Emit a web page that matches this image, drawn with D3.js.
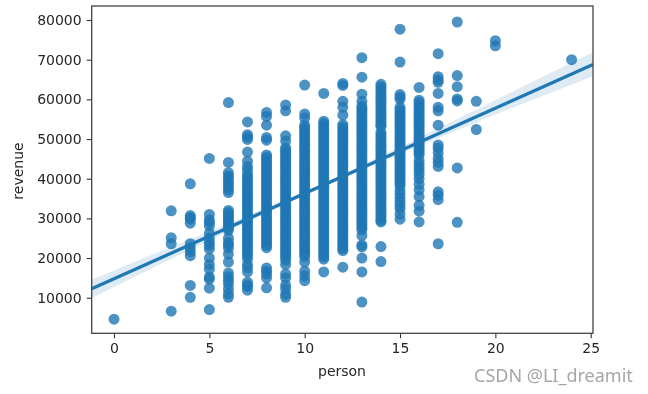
<!DOCTYPE html>
<html><head><meta charset="utf-8">
<script src="https://cdn.jsdelivr.net/npm/d3@7/dist/d3.min.js"></script>
<style>html,body{margin:0;padding:0;background:#fff}svg{display:block}</style>
</head><body><svg id="c" width="648" height="394"></svg>
<script>
const xTicks=[0,5,10,15,20,25];
const yTicks=[10000,20000,30000,40000,50000,60000,70000,80000];
const persons=[0,3,4,5,6,7,8,9,10,11,12,13,14,15,16,17,18,19,20,24];
const rev0=[4600];
const rev3=[31900,25100,23600,6600];
const rev4=[38700,30700,30200,29800,28800,23600,22500,21600,20600,13100,10100];
const rev5=[45100,31000,29600,29000,28200,26300,25000,24000,23200,22300,20000,18400,17200,15200,14700,12400,7000];
const rev6=[59200,44100,41500,40700,40100,39300,38600,37900,37200,36500,32000,31500,30900,30300,29800,29200,28600,28000,27500,27000,25000,23900,23300,22500,21000,19000,16200,15300,14400,13500,12200,11000,10100];
const rev7=[54300,51100,50500,49900,46700,44400,43100,42200,41100,40500,39900,39200,38700,38000,37400,36800,36200,35600,35000,34400,33800,33200,32600,32000,31400,30800,30200,29600,29000,28400,27800,27200,26600,26000,25400,24800,24200,23600,23000,22400,21800,21200,20600,19800,18400,17600,16500,13900,13200,12800,11900];
const rev8=[56700,55700,53500,50400,49700,46000,45400,44800,44200,43600,43000,42400,41800,41200,40600,40000,39400,38800,38200,37600,37000,36400,35800,35200,34600,34000,33400,32800,32200,31600,31000,30400,29800,29200,28600,28000,27400,26800,26200,25600,25000,24400,23800,23200,22600,17500,16700,16000,15000,12500];
const rev9=[58600,57100,50800,49500,47800,47200,46600,46000,45400,44800,44200,43600,43000,42400,41800,41200,40600,40000,39400,38800,38200,37600,37000,36400,35800,35200,34600,34000,33400,32800,32200,31600,31000,30400,29800,29200,28600,28000,27400,26800,26200,25600,25000,24400,23800,23200,22600,22000,21400,20800,20200,19500,18400,16000,15000,13200,12200,10900,10100];
const rev10=[63600,56300,55300,53500,52900,52300,51700,51100,50500,49900,49300,48700,48100,47500,46900,46300,45700,45100,44500,43900,43300,42700,42100,41500,40900,40300,39700,39100,38500,37900,37300,36700,36100,35500,34900,34300,33700,33100,32500,31900,31300,30700,30100,29500,28900,28300,27700,27100,26500,25900,25300,24700,24100,23500,22900,22300,21700,21100,20400,19000,16700,15500,14300];
const rev11=[61500,54500,53900,53300,52700,52100,51500,50900,50300,49700,49100,48500,47900,47300,46700,46100,45500,44900,44300,43700,43100,42500,41900,41300,40700,40100,39500,38900,38300,37700,37100,36500,35900,35300,34700,34100,33500,32900,32300,31700,31100,30500,29900,29300,28700,28100,27500,26900,26300,25700,25100,24500,23900,23300,22700,22100,21500,20900,20300,19700,16500];
const rev12=[64000,63500,59500,58000,56000,53600,53000,52400,51800,51200,50600,50000,49400,48800,48200,47600,47000,46400,45800,45200,44600,44000,43400,42800,42200,41600,41000,40400,39800,39200,38600,38000,37400,36800,36200,35600,35000,34400,33800,33200,32600,32000,31400,30800,30200,29600,29000,28400,27800,27200,26600,26000,25400,24800,24200,23600,23000,22400,21900,17700];
const rev13=[70500,65600,61300,59500,58300,57700,57100,56500,55900,55300,54700,54100,53500,52900,52300,51700,51100,50500,49900,49300,48700,48100,47500,46900,46300,45700,45100,44500,43900,43300,42700,42100,41500,40900,40300,39700,39100,38500,37900,37300,36700,36100,35500,34900,34300,33700,33100,32500,31900,31300,30700,30100,29500,28900,28300,27700,27100,25700,23300,22800,20000,16500,8900];
const rev14=[63800,63200,62600,62000,61400,60800,60200,59600,59000,58400,57800,57200,56600,56000,55400,54800,54200,53600,53200,51700,51100,50500,49900,49300,48700,48100,47500,46900,46300,45700,45100,44500,43900,43300,42700,42100,41500,40900,40300,39700,39100,38500,37900,37300,36700,36100,35500,34900,34300,33700,33100,32500,31900,31300,30700,30100,29500,29100,22900,19100];
const rev15=[77700,69400,61200,60600,60000,58000,57400,56800,56200,55600,55000,54400,53800,53200,52600,52000,51400,50800,50200,49600,49000,48400,47800,47200,46600,46000,45400,44800,44200,43600,43000,42400,41800,41200,40600,40000,39400,38800,38200,37000,36100,35100,34200,33300,32500,31100,29800];
const rev16=[63000,59800,59200,58600,58000,57400,56800,56200,55600,55000,54400,53800,53200,52600,52000,51400,50800,50200,49600,49000,48400,47800,47200,46600,46000,44600,43700,42800,42000,41100,40000,38600,37200,35500,33300,31800,29100];
const rev17=[71500,65700,64900,64300,61500,58000,57100,53500,48500,47700,46500,45100,44100,43100,36700,35800,34700,23600];
const rev18=[79500,66000,63200,60100,59600,42700,29000];
const rev19=[59500,52400];
const rev20=[74800,73500];
const rev24=[70000];
const revenueByPerson=[rev0,rev3,rev4,rev5,rev6,rev7,rev8,rev9,rev10,rev11,rev12,rev13,rev14,rev15,rev16,rev17,rev18,rev19,rev20,rev24];
const fitX=[-1.17,25.12];
const fitY=[12250,68800];
const bandX=[-1.17,2,4,6,8,10,12,14,16,18,20,22,25.12];
const bandHi=[14550,20800,24700,28700,32750,36850,41130,45700,50300,55030,59750,64560,71900];
const bandLo=[9950,17400,22100,26700,31340,35860,40230,44300,48300,52230,56150,59960,65800];

const svg=d3.select('#c');
const m={l:91.7,r:593,t:6,b:333.3};
const x=d3.scaleLinear().domain([-1.17,25.12]).range([m.l,m.r]);
const y=d3.scaleLinear().domain([1030,83530]).range([m.b,m.t]);
const blue='#1f77b4',ink='#262626';
const root=svg.append('g').style('filter','blur(0.45px)');
root.append('defs').append('clipPath').attr('id','plot').append('rect')
  .attr('x',m.l).attr('y',m.t).attr('width',m.r-m.l).attr('height',m.b-m.t);
const pts=persons.flatMap((p,i)=>revenueByPerson[i].map(v=>({p,v})));
const g=root.append('g').attr('clip-path','url(#plot)');
g.selectAll('circle').data(pts).join('circle')
  .attr('cx',d=>x(d.p)).attr('cy',d=>y(d.v)).attr('r',5.5).attr('fill',blue).attr('opacity',0.8);
g.append('path').datum(bandX.map((b,i)=>[b,bandLo[i],bandHi[i]]))
  .attr('d',d3.area().x(d=>x(d[0])).y0(d=>y(d[1])).y1(d=>y(d[2])))
  .attr('fill',blue).attr('opacity',0.15);
g.append('path').datum(fitX.map((b,i)=>[b,fitY[i]]))
  .attr('d',d3.line().x(d=>x(d[0])).y(d=>y(d[1])))
  .attr('stroke',blue).attr('stroke-width',3.2).attr('fill','none');
const fmt=d=>String(d);
const ax=root.append('g').attr('transform',`translate(0,${m.b})`)
  .call(d3.axisBottom(x).tickValues(xTicks).tickFormat(fmt).tickSize(5).tickPadding(5));
const ay=root.append('g').attr('transform',`translate(${m.l},0)`)
  .call(d3.axisLeft(y).tickValues(yTicks).tickFormat(fmt).tickSize(5).tickPadding(5));
[ax,ay].forEach(a=>{
  a.select('.domain').remove();
  a.selectAll('line').attr('stroke','#333').attr('stroke-width',1.1);
  a.selectAll('text').attr('fill',ink).style('font','14px "DejaVu Sans"');
});
root.append('rect').attr('x',m.l).attr('y',m.t).attr('width',m.r-m.l).attr('height',m.b-m.t)
  .attr('fill','none').attr('stroke','#444').attr('stroke-width',1.3);
root.append('text').attr('x',342).attr('y',376).attr('text-anchor','middle')
  .attr('fill',ink).style('font','14px "DejaVu Sans"').text('person');
root.append('text').attr('transform','translate(23,171) rotate(-90)').attr('text-anchor','middle')
  .attr('fill',ink).style('font','14px "DejaVu Sans"').text('revenue');
svg.append('text').attr('x',474).attr('y',382).attr('fill','#a6a6a6')
  .style('font','18px "Noto Sans"').text('CSDN @LI_dreamit');
</script></body></html>
